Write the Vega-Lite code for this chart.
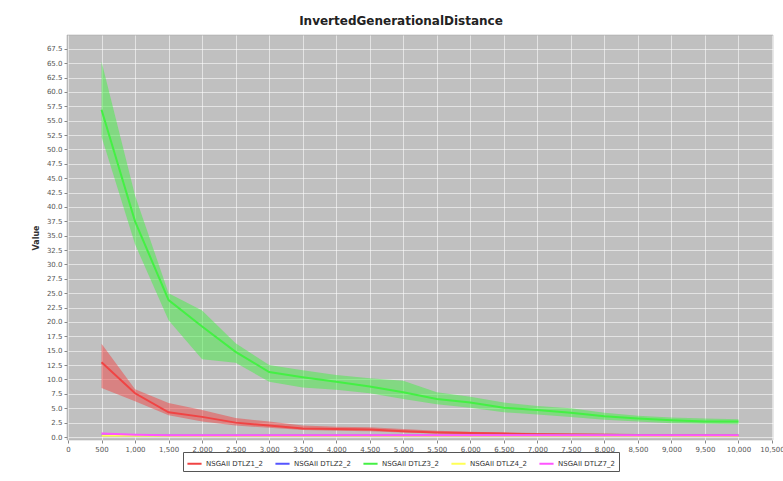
{
  "$schema": "https://vega.github.io/schema/vega-lite/v6.json",
  "width": 706,
  "height": 405,
  "autosize": "none",
  "padding": {"left": 67, "top": 35, "right": 10, "bottom": 41},
  "background": "#ffffff",
  "title": {
    "text": "InvertedGenerationalDistance",
    "font": "DejaVu Sans",
    "fontSize": 12,
    "fontWeight": "bold",
    "color": "#222222",
    "anchor": "middle",
    "dx": -19,
    "offset": 7
  },
  "config": {
    "view": {"fill": "#c0c0c0", "stroke": "#a0a0a0", "strokeWidth": 0.5},
    "axis": {
      "labelFont": "DejaVu Sans",
      "labelFontSize": 7,
      "labelColor": "#555555",
      "labelOverlap": false,
      "titleFont": "DejaVu Sans",
      "titleFontSize": 8,
      "titleFontWeight": "bold",
      "titleColor": "#333333",
      "gridColor": "#ffffff",
      "gridOpacity": 0.55,
      "gridWidth": 1,
      "tickColor": "#888888",
      "tickSize": 3,
      "domainColor": "#999999"
    }
  },
  "data": {
    "values": [
      {"series": "NSGAII DTLZ1_2", "x": 500, "med": 13.0, "lo": 8.5, "hi": 16.2},
      {"series": "NSGAII DTLZ1_2", "x": 1000, "med": 7.6, "lo": 6.2, "hi": 8.3},
      {"series": "NSGAII DTLZ1_2", "x": 1500, "med": 4.3, "lo": 3.8, "hi": 5.9},
      {"series": "NSGAII DTLZ1_2", "x": 2000, "med": 3.5, "lo": 2.7, "hi": 4.7},
      {"series": "NSGAII DTLZ1_2", "x": 2500, "med": 2.5, "lo": 2.0, "hi": 3.3},
      {"series": "NSGAII DTLZ1_2", "x": 3000, "med": 2.0, "lo": 1.6, "hi": 2.7},
      {"series": "NSGAII DTLZ1_2", "x": 3500, "med": 1.5, "lo": 1.2, "hi": 2.0},
      {"series": "NSGAII DTLZ1_2", "x": 4000, "med": 1.4, "lo": 1.1, "hi": 1.8},
      {"series": "NSGAII DTLZ1_2", "x": 4500, "med": 1.3, "lo": 1.0, "hi": 1.7},
      {"series": "NSGAII DTLZ1_2", "x": 5000, "med": 1.0, "lo": 0.8, "hi": 1.4},
      {"series": "NSGAII DTLZ1_2", "x": 5500, "med": 0.8, "lo": 0.6, "hi": 1.1},
      {"series": "NSGAII DTLZ1_2", "x": 6000, "med": 0.7, "lo": 0.5, "hi": 0.9},
      {"series": "NSGAII DTLZ1_2", "x": 6500, "med": 0.6, "lo": 0.45, "hi": 0.8},
      {"series": "NSGAII DTLZ1_2", "x": 7000, "med": 0.5, "lo": 0.4, "hi": 0.7},
      {"series": "NSGAII DTLZ1_2", "x": 7500, "med": 0.45, "lo": 0.35, "hi": 0.6},
      {"series": "NSGAII DTLZ1_2", "x": 8000, "med": 0.4, "lo": 0.3, "hi": 0.55},
      {"series": "NSGAII DTLZ1_2", "x": 8500, "med": 0.35, "lo": 0.3, "hi": 0.5},
      {"series": "NSGAII DTLZ1_2", "x": 9000, "med": 0.3, "lo": 0.25, "hi": 0.45},
      {"series": "NSGAII DTLZ1_2", "x": 9500, "med": 0.3, "lo": 0.2, "hi": 0.4},
      {"series": "NSGAII DTLZ1_2", "x": 10000, "med": 0.25, "lo": 0.2, "hi": 0.35},

      {"series": "NSGAII DTLZ2_2", "x": 500, "med": 0.25, "lo": 0.2, "hi": 0.3},
      {"series": "NSGAII DTLZ2_2", "x": 1000, "med": 0.25, "lo": 0.2, "hi": 0.3},
      {"series": "NSGAII DTLZ2_2", "x": 1500, "med": 0.25, "lo": 0.2, "hi": 0.3},
      {"series": "NSGAII DTLZ2_2", "x": 2000, "med": 0.25, "lo": 0.2, "hi": 0.3},
      {"series": "NSGAII DTLZ2_2", "x": 2500, "med": 0.25, "lo": 0.2, "hi": 0.3},
      {"series": "NSGAII DTLZ2_2", "x": 3000, "med": 0.25, "lo": 0.2, "hi": 0.3},
      {"series": "NSGAII DTLZ2_2", "x": 3500, "med": 0.25, "lo": 0.2, "hi": 0.3},
      {"series": "NSGAII DTLZ2_2", "x": 4000, "med": 0.25, "lo": 0.2, "hi": 0.3},
      {"series": "NSGAII DTLZ2_2", "x": 4500, "med": 0.25, "lo": 0.2, "hi": 0.3},
      {"series": "NSGAII DTLZ2_2", "x": 5000, "med": 0.25, "lo": 0.2, "hi": 0.3},
      {"series": "NSGAII DTLZ2_2", "x": 5500, "med": 0.25, "lo": 0.2, "hi": 0.3},
      {"series": "NSGAII DTLZ2_2", "x": 6000, "med": 0.25, "lo": 0.2, "hi": 0.3},
      {"series": "NSGAII DTLZ2_2", "x": 6500, "med": 0.25, "lo": 0.2, "hi": 0.3},
      {"series": "NSGAII DTLZ2_2", "x": 7000, "med": 0.25, "lo": 0.2, "hi": 0.3},
      {"series": "NSGAII DTLZ2_2", "x": 7500, "med": 0.25, "lo": 0.2, "hi": 0.3},
      {"series": "NSGAII DTLZ2_2", "x": 8000, "med": 0.25, "lo": 0.2, "hi": 0.3},
      {"series": "NSGAII DTLZ2_2", "x": 8500, "med": 0.25, "lo": 0.2, "hi": 0.3},
      {"series": "NSGAII DTLZ2_2", "x": 9000, "med": 0.25, "lo": 0.2, "hi": 0.3},
      {"series": "NSGAII DTLZ2_2", "x": 9500, "med": 0.25, "lo": 0.2, "hi": 0.3},
      {"series": "NSGAII DTLZ2_2", "x": 10000, "med": 0.25, "lo": 0.2, "hi": 0.3},

      {"series": "NSGAII DTLZ3_2", "x": 500, "med": 56.9, "lo": 52.2, "hi": 65.3},
      {"series": "NSGAII DTLZ3_2", "x": 1000, "med": 37.5, "lo": 33.5, "hi": 42.0},
      {"series": "NSGAII DTLZ3_2", "x": 1500, "med": 23.8, "lo": 20.3, "hi": 25.0},
      {"series": "NSGAII DTLZ3_2", "x": 2000, "med": 19.2, "lo": 13.5, "hi": 22.0},
      {"series": "NSGAII DTLZ3_2", "x": 2500, "med": 14.8, "lo": 12.9, "hi": 16.3},
      {"series": "NSGAII DTLZ3_2", "x": 3000, "med": 11.3, "lo": 9.6, "hi": 12.5},
      {"series": "NSGAII DTLZ3_2", "x": 3500, "med": 10.4, "lo": 8.6, "hi": 11.6},
      {"series": "NSGAII DTLZ3_2", "x": 4000, "med": 9.6, "lo": 8.2, "hi": 10.8},
      {"series": "NSGAII DTLZ3_2", "x": 4500, "med": 8.8, "lo": 7.6, "hi": 10.2},
      {"series": "NSGAII DTLZ3_2", "x": 5000, "med": 7.8, "lo": 6.6, "hi": 9.8},
      {"series": "NSGAII DTLZ3_2", "x": 5500, "med": 6.6, "lo": 5.7, "hi": 7.8},
      {"series": "NSGAII DTLZ3_2", "x": 6000, "med": 6.0, "lo": 5.1, "hi": 7.0},
      {"series": "NSGAII DTLZ3_2", "x": 6500, "med": 5.1, "lo": 4.3, "hi": 6.0},
      {"series": "NSGAII DTLZ3_2", "x": 7000, "med": 4.7, "lo": 3.9, "hi": 5.4},
      {"series": "NSGAII DTLZ3_2", "x": 7500, "med": 4.2, "lo": 3.5, "hi": 5.0},
      {"series": "NSGAII DTLZ3_2", "x": 8000, "med": 3.6, "lo": 3.0, "hi": 4.2},
      {"series": "NSGAII DTLZ3_2", "x": 8500, "med": 3.2, "lo": 2.7, "hi": 3.7},
      {"series": "NSGAII DTLZ3_2", "x": 9000, "med": 2.9, "lo": 2.4, "hi": 3.4},
      {"series": "NSGAII DTLZ3_2", "x": 9500, "med": 2.7, "lo": 2.3, "hi": 3.2},
      {"series": "NSGAII DTLZ3_2", "x": 10000, "med": 2.7, "lo": 2.2, "hi": 3.1},

      {"series": "NSGAII DTLZ4_2", "x": 500, "med": 0.2, "lo": 0.15, "hi": 0.25},
      {"series": "NSGAII DTLZ4_2", "x": 1000, "med": 0.2, "lo": 0.15, "hi": 0.25},
      {"series": "NSGAII DTLZ4_2", "x": 1500, "med": 0.2, "lo": 0.15, "hi": 0.25},
      {"series": "NSGAII DTLZ4_2", "x": 2000, "med": 0.2, "lo": 0.15, "hi": 0.25},
      {"series": "NSGAII DTLZ4_2", "x": 2500, "med": 0.2, "lo": 0.15, "hi": 0.25},
      {"series": "NSGAII DTLZ4_2", "x": 3000, "med": 0.2, "lo": 0.15, "hi": 0.25},
      {"series": "NSGAII DTLZ4_2", "x": 3500, "med": 0.2, "lo": 0.15, "hi": 0.25},
      {"series": "NSGAII DTLZ4_2", "x": 4000, "med": 0.2, "lo": 0.15, "hi": 0.25},
      {"series": "NSGAII DTLZ4_2", "x": 4500, "med": 0.2, "lo": 0.15, "hi": 0.25},
      {"series": "NSGAII DTLZ4_2", "x": 5000, "med": 0.2, "lo": 0.15, "hi": 0.25},
      {"series": "NSGAII DTLZ4_2", "x": 5500, "med": 0.2, "lo": 0.15, "hi": 0.25},
      {"series": "NSGAII DTLZ4_2", "x": 6000, "med": 0.2, "lo": 0.15, "hi": 0.25},
      {"series": "NSGAII DTLZ4_2", "x": 6500, "med": 0.2, "lo": 0.15, "hi": 0.25},
      {"series": "NSGAII DTLZ4_2", "x": 7000, "med": 0.2, "lo": 0.15, "hi": 0.25},
      {"series": "NSGAII DTLZ4_2", "x": 7500, "med": 0.2, "lo": 0.15, "hi": 0.25},
      {"series": "NSGAII DTLZ4_2", "x": 8000, "med": 0.2, "lo": 0.15, "hi": 0.25},
      {"series": "NSGAII DTLZ4_2", "x": 8500, "med": 0.2, "lo": 0.15, "hi": 0.25},
      {"series": "NSGAII DTLZ4_2", "x": 9000, "med": 0.2, "lo": 0.15, "hi": 0.25},
      {"series": "NSGAII DTLZ4_2", "x": 9500, "med": 0.2, "lo": 0.15, "hi": 0.25},
      {"series": "NSGAII DTLZ4_2", "x": 10000, "med": 0.2, "lo": 0.15, "hi": 0.25},

      {"series": "NSGAII DTLZ7_2", "x": 500, "med": 0.6, "lo": 0.45, "hi": 0.75},
      {"series": "NSGAII DTLZ7_2", "x": 1000, "med": 0.4, "lo": 0.3, "hi": 0.5},
      {"series": "NSGAII DTLZ7_2", "x": 1500, "med": 0.32, "lo": 0.25, "hi": 0.4},
      {"series": "NSGAII DTLZ7_2", "x": 2000, "med": 0.3, "lo": 0.25, "hi": 0.35},
      {"series": "NSGAII DTLZ7_2", "x": 2500, "med": 0.3, "lo": 0.25, "hi": 0.35},
      {"series": "NSGAII DTLZ7_2", "x": 3000, "med": 0.3, "lo": 0.25, "hi": 0.35},
      {"series": "NSGAII DTLZ7_2", "x": 3500, "med": 0.3, "lo": 0.25, "hi": 0.35},
      {"series": "NSGAII DTLZ7_2", "x": 4000, "med": 0.3, "lo": 0.25, "hi": 0.35},
      {"series": "NSGAII DTLZ7_2", "x": 4500, "med": 0.3, "lo": 0.25, "hi": 0.35},
      {"series": "NSGAII DTLZ7_2", "x": 5000, "med": 0.3, "lo": 0.25, "hi": 0.35},
      {"series": "NSGAII DTLZ7_2", "x": 5500, "med": 0.3, "lo": 0.25, "hi": 0.35},
      {"series": "NSGAII DTLZ7_2", "x": 6000, "med": 0.3, "lo": 0.25, "hi": 0.35},
      {"series": "NSGAII DTLZ7_2", "x": 6500, "med": 0.3, "lo": 0.25, "hi": 0.35},
      {"series": "NSGAII DTLZ7_2", "x": 7000, "med": 0.3, "lo": 0.25, "hi": 0.35},
      {"series": "NSGAII DTLZ7_2", "x": 7500, "med": 0.3, "lo": 0.25, "hi": 0.35},
      {"series": "NSGAII DTLZ7_2", "x": 8000, "med": 0.3, "lo": 0.25, "hi": 0.35},
      {"series": "NSGAII DTLZ7_2", "x": 8500, "med": 0.3, "lo": 0.25, "hi": 0.35},
      {"series": "NSGAII DTLZ7_2", "x": 9000, "med": 0.3, "lo": 0.25, "hi": 0.35},
      {"series": "NSGAII DTLZ7_2", "x": 9500, "med": 0.3, "lo": 0.25, "hi": 0.35},
      {"series": "NSGAII DTLZ7_2", "x": 10000, "med": 0.3, "lo": 0.25, "hi": 0.35}
    ]
  },
  "encoding": {
    "x": {
      "field": "x",
      "type": "quantitative",
      "scale": {"domain": [-15, 10515], "nice": false, "zero": false},
      "axis": {
        "title": null,
        "values": [0, 500, 1000, 1500, 2000, 2500, 3000, 3500, 4000, 4500, 5000, 5500, 6000, 6500, 7000, 7500, 8000, 8500, 9000, 9500, 10000, 10500],
        "format": ",.0f",
        "labelPadding": 2,
        "labelFlush": false,
        "domain": false
      }
    },
    "color": {
      "field": "series",
      "type": "nominal",
      "scale": {
        "domain": ["NSGAII DTLZ1_2", "NSGAII DTLZ2_2", "NSGAII DTLZ3_2", "NSGAII DTLZ4_2", "NSGAII DTLZ7_2"],
        "range": ["#f04444", "#5555ff", "#44f044", "#ffff55", "#ff55ff"]
      },
      "legend": {
        "title": null,
        "orient": "none",
        "legendX": 116,
        "legendY": 417,
        "direction": "horizontal",
        "columns": 5,
        "symbolType": "stroke",
        "symbolStrokeWidth": 2,
        "symbolSize": 200,
        "symbolOpacity": 1,
        "labelFont": "DejaVu Sans",
        "labelFontSize": 7,
        "labelColor": "#333333",
        "labelOffset": 3,
        "columnPadding": 7,
        "strokeColor": "#555555",
        "fillColor": "#ffffff",
        "padding": 3
      }
    }
  },
  "layer": [
    {
      "mark": {"type": "area", "opacity": 0.5},
      "encoding": {
        "y": {
          "field": "lo",
          "type": "quantitative",
          "scale": {"domain": [-0.52, 69.9], "nice": false, "zero": false},
          "axis": {
            "title": "Value",
            "values": [0, 2.5, 5, 7.5, 10, 12.5, 15, 17.5, 20, 22.5, 25, 27.5, 30, 32.5, 35, 37.5, 40, 42.5, 45, 47.5, 50, 52.5, 55, 57.5, 60, 62.5, 65, 67.5],
            "format": ".1f",
            "labelPadding": 2,
            "titlePadding": 6,
            "domain": false
          }
        },
        "y2": {"field": "hi"}
      }
    },
    {
      "mark": {"type": "line", "strokeWidth": 2},
      "encoding": {
        "y": {
          "field": "med",
          "type": "quantitative",
          "scale": {"domain": [-0.52, 69.9], "nice": false, "zero": false},
          "axis": {
            "title": "Value",
            "values": [0, 2.5, 5, 7.5, 10, 12.5, 15, 17.5, 20, 22.5, 25, 27.5, 30, 32.5, 35, 37.5, 40, 42.5, 45, 47.5, 50, 52.5, 55, 57.5, 60, 62.5, 65, 67.5],
            "format": ".1f",
            "labelPadding": 2,
            "titlePadding": 6,
            "domain": false
          }
        }
      }
    }
  ]
}
